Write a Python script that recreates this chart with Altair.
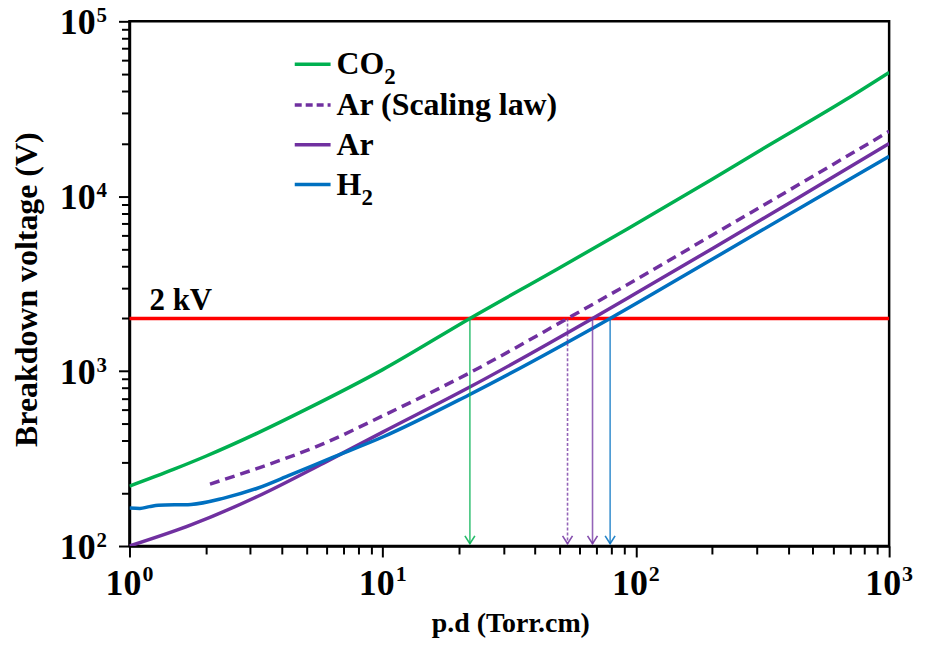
import altair as alt
import pandas as pd

# ---------------- data ----------------
co2_x = [1, 1.5, 2, 3.2, 5, 10, 22.1, 50, 92.5, 200, 308, 678, 1000]
co2_y = [220, 275, 326, 442, 606, 1020, 2000, 3900, 6500, 12500, 18200, 35800, 51000]

ar_law_x = [2.08, 3.2, 5.84, 10, 21.7, 53.7, 100, 200, 500, 1000]
ar_law_y = [226, 278, 385, 555, 966, 2000, 3330, 5990, 13000, 23500]

ar_x = [1, 1.75, 3.2, 5.84, 10, 21.7, 67.4, 100, 200, 500, 1000]
ar_y = [100, 132, 192, 298, 448, 800, 2000, 2786, 5010, 11000, 20000]

h2_x = [1, 1.1, 1.2, 1.3, 1.75, 2.36, 3.2, 4.32, 6.21, 10, 21.7, 79.1, 200, 500, 1000]
h2_y = [165, 164, 168, 171, 173, 188, 214, 255, 317, 420, 726, 2000, 4360, 9440, 16900]

threshold_v = 2000
threshold_x = [1, 1000]
threshold_label = "2 kV"

arrow_x = [22.1, 53.7, 67.4, 79.1]
arrow_series = ["CO2", "Ar (Scaling law)", "Ar", "H2"]
arrow_tip = 103

x_tick_values = [1, 2, 3, 4, 5, 6, 7, 8, 9,
                 10, 20, 30, 40, 50, 60, 70, 80, 90,
                 100, 200, 300, 400, 500, 600, 700, 800, 900, 1000]
y_tick_values = [100, 200, 300, 400, 500, 600, 700, 800, 900,
                 1000, 2000, 3000, 4000, 5000, 6000, 7000, 8000, 9000,
                 10000, 20000, 30000, 40000, 50000, 60000, 70000, 80000, 90000,
                 100000]
x_major = [1, 10, 100, 1000]
x_major_exp = ["0", "1", "2", "3"]
y_major = [100, 1000, 10000, 100000]
y_major_exp = ["2", "3", "4", "5"]
label_base = "10"

x_title = "p.d (Torr.cm)"
y_title = "Breakdown voltage (V)"

# ---------------- styling ----------------
GREEN = "#00B050"
PURPLE = "#7030A0"
BLUE = "#0070C0"
RED = "#FF0000"
FONT = "Liberation Serif"
W, H = 763, 527


def tick_cond(vals):
    arr = ",".join(str(v) for v in vals)
    return {"condition": {"test": f"indexof([{arr}], datum.value) >= 0", "value": 11}, "value": 8}


x_axis = alt.Axis(
    values=x_tick_values, labels=False,
    tickSize=tick_cond(x_major), tickWidth=2, tickColor="black",
    domainColor="black", domainWidth=2.5, grid=False,
    title=x_title, titleFont=FONT, titleFontWeight="bold", titleFontSize=28,
    titleColor="black", titleX=W / 2 + 1, titleY=78, titleAlign="center",
    titleBaseline="middle",
)
y_axis = alt.Axis(
    values=y_tick_values, labels=False,
    tickSize=tick_cond(y_major), tickWidth=2, tickColor="black",
    domainColor="black", domainWidth=2.5, grid=False,
    title=y_title, titleFont=FONT, titleFontWeight="bold", titleFontSize=32,
    titleColor="black", titleX=-103, titleY=269, titleAngle=270,
    titleAlign="center", titleBaseline="middle",
)

xs = alt.Scale(type="log", domain=[1, 1000], nice=False)
ys = alt.Scale(type="log", domain=[100, 100000], nice=False)
X = alt.X("x:Q", scale=xs, axis=x_axis)
Y = alt.Y("y:Q", scale=ys, axis=y_axis)


def curve(xv, yv, color, dash=None):
    df = pd.DataFrame({"x": xv, "y": yv})
    kw = dict(color=color, strokeWidth=3.5, interpolate="monotone", clip=True)
    if dash:
        kw["strokeDash"] = dash
    return alt.Chart(df).mark_line(**kw).encode(x=X, y=Y)


layers = []
# threshold line
thr_df = pd.DataFrame({"x": threshold_x, "y": [threshold_v, threshold_v]})
layers.append(alt.Chart(thr_df).mark_line(color=RED, strokeWidth=3.5).encode(x=X, y=Y))

layers.append(curve(co2_x, co2_y, GREEN))
layers.append(curve(ar_x, ar_y, PURPLE))
layers.append(curve(h2_x, h2_y, BLUE))
layers.append(curve(ar_law_x, ar_law_y, PURPLE, dash=[10, 6]))

# arrows
arrow_colors = [GREEN, PURPLE, PURPLE, BLUE]
arrow_dash = ["solid", "dash", "solid", "solid"]
arr_df = pd.DataFrame({
    "x": arrow_x, "y": [threshold_v] * 4, "y2": [arrow_tip] * 4,
    "c": arrow_colors, "d": arrow_dash, "s": arrow_series,
})
layers.append(
    alt.Chart(arr_df).mark_rule(strokeWidth=1.6, opacity=0.75).encode(
        x=X, y=Y, y2="y2:Q",
        color=alt.Color("c:N", scale=None),
        strokeDash=alt.StrokeDash("d:N", scale=alt.Scale(domain=["solid", "dash"], range=[[1, 0], [3, 2]]), legend=None),
    )
)
tip_df = pd.DataFrame({"x": arrow_x, "y": [arrow_tip] * 4, "c": arrow_colors})
layers.append(
    alt.Chart(tip_df).mark_point(shape="M-1,-1.6L0,0L1,-1.6", filled=False, size=100,
                                 strokeWidth=1.6, opacity=0.85).encode(
        x=X, y=Y, color=alt.Color("c:N", scale=None))
)

# 2 kV label
lab_df = pd.DataFrame({"x": [1.2], "y": [threshold_v], "t": [threshold_label]})
layers.append(
    alt.Chart(lab_df).mark_text(align="left", baseline="alphabetic", dy=-9, font=FONT,
                                fontWeight="bold", fontSize=31, color="black").encode(
        x=X, y=Y, text="t:N")
)

# tick labels "10" with exponent
xl_df = pd.DataFrame({"x": x_major, "b": [label_base] * 4, "e": x_major_exp})
layers.append(alt.Chart(xl_df).mark_text(
    align="right", baseline="alphabetic", dx=12, font=FONT, fontWeight="bold",
    fontSize=36, color="black").encode(x=X, y=alt.value(H + 49), text="b:N"))
layers.append(alt.Chart(xl_df).mark_text(
    align="left", baseline="alphabetic", dx=13, font=FONT, fontWeight="bold",
    fontSize=22, color="black").encode(x=X, y=alt.value(H + 35), text="e:N"))

yl_df = pd.DataFrame({"y": y_major, "b": [label_base] * 4, "e": y_major_exp})
layers.append(alt.Chart(yl_df).mark_text(
    align="right", baseline="alphabetic", dy=13, font=FONT, fontWeight="bold",
    fontSize=36, color="black").encode(x=alt.value(-34), y=Y, text="b:N"))
layers.append(alt.Chart(yl_df).mark_text(
    align="left", baseline="alphabetic", dy=1, font=FONT, fontWeight="bold",
    fontSize=21, color="black").encode(x=alt.value(-33), y=Y, text="e:N"))

# manual legend
dummy = pd.DataFrame({"a": [0]})
leg_rows = [
    (43, GREEN, None, "CO", "2"),
    (84, PURPLE, [7, 4], "Ar (Scaling law)", None),
    (124, PURPLE, None, "Ar", None),
    (164, BLUE, None, "H", "2"),
]
sub_dx = {"CO": 48, "H": 25}
for yy, col, dash, txt, sub in leg_rows:
    kw = dict(color=col, strokeWidth=3.5)
    if dash:
        kw["strokeDash"] = dash
    layers.append(alt.Chart(dummy).mark_rule(**kw).encode(
        x=alt.value(166), x2=alt.value(202), y=alt.value(yy)))
    layers.append(alt.Chart(dummy).mark_text(
        text=txt, align="left", baseline="middle", font=FONT, fontWeight="bold",
        fontSize=32, color="black").encode(x=alt.value(208), y=alt.value(yy)))
    if sub:
        layers.append(alt.Chart(dummy).mark_text(
            text=sub, align="left", baseline="middle", font=FONT, fontWeight="bold",
            fontSize=23, color="black").encode(x=alt.value(208 + sub_dx[txt]), y=alt.value(yy + 13)))

chart = alt.layer(*layers).properties(
    width=W, height=H,
    autosize=alt.AutoSizeParams(type="none"),
    padding={"left": 122, "top": 12, "right": 30, "bottom": 91},
).configure_view(stroke="black", strokeWidth=2.5)

chart.save("out.html", embed_options={"renderer": "svg", "actions": False})
